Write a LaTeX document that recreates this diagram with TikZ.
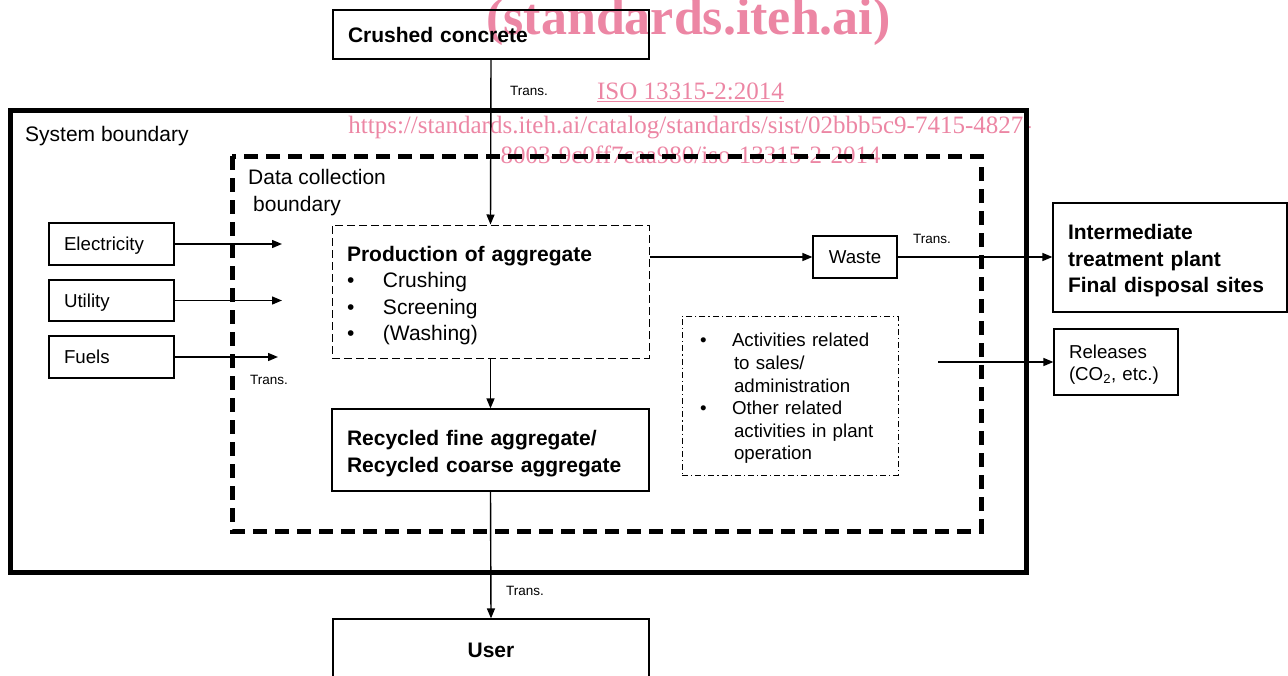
\documentclass[tikz,border=0pt]{standalone}
\usepackage{fontspec}
\setmainfont{Liberation Sans}
\newfontfamily\wmfont{Liberation Serif}
\usepackage{tikz}
\usetikzlibrary{arrows.meta}
\definecolor{wmpink}{RGB}{236,134,164}

\begin{document}
\begin{tikzpicture}[x=1pt, y=-1pt,
		box/.style={draw, line width=1.2pt, inner xsep=15pt, inner ysep=0pt, align=left,
			font=\fontsize{18.7}{22.6}\selectfont},
		onebox/.style={box, text depth=0pt},
		bigbox/.style={box, font=\fontsize{21}{26.5}\selectfont},
		flow/.style={-{Triangle[length=10pt,width=8pt]}, line width=1.4pt},
		trans/.style={anchor=west, inner sep=0pt, font=\fontsize{13.5}{16}\selectfont},
		wm/.style={anchor=base, inner sep=0pt, text=wmpink, font=\wmfont\fontsize{25}{30}\selectfont}]

			\clip (0,0) rectangle (1288,675);

			\node[wm, font=\wmfont\bfseries\fontsize{52}{60}\selectfont] (wmsite) at (688.5,34) {(standards.iteh.ai)};
			\node[wm] (wmiso) at (690.5,99) {\underline{ISO 13315-2:2014}};
			\node[wm] (wmurl) at (690,133) {https://standards.iteh.ai/catalog/standards/sist/02bbb5c9-7415-4827-};
			\node[wm] (wmid) at (690.5,163) {8003-9c0ff7caa980/iso-13315-2-2014};

			\draw[line width=5pt] (10,110) rectangle (1026,572);
			\draw[line width=5pt, dash pattern=on 14pt off 8pt] (232,156) rectangle (981,531);

			\node[anchor=west, inner sep=0pt, font=\fontsize{21}{26}\selectfont] (sysname) at (25,136) {System boundary};
			\node[anchor=west, inner sep=0pt, align=left, font=\fontsize{21}{27}\selectfont] (dataname) at (248,192.5)
				{Data collection\\\hspace*{5pt}boundary};

			\node[onebox, bigbox, text depth=0pt, text width=286pt, minimum height=49pt] (crushed) at (491,34.5) {\bfseries Crushed concrete};
			\node[bigbox, text width=287pt, minimum height=133pt, line width=1pt, dash pattern=on 8pt off 4pt] (prod) at (490.5,291.5)
				{\rule{0pt}{23.5pt}\textbf{Production of aggregate}\\
				\makebox[36pt][l]{•}Crushing\\
				\makebox[36pt][l]{•}Screening\\
				\makebox[36pt][l]{•}(Washing)};
			\node[bigbox, text width=287pt, minimum height=82pt] (recyc) at (490.5,450)
				{\rule{0pt}{22.3pt}\bfseries Recycled fine aggregate/\\Recycled coarse aggregate};
			\node[bigbox, text depth=0pt, text width=286pt, minimum height=62pt, align=center] (user) at (491,650) {\bfseries User};

			\node[onebox, text width=95pt, minimum height=42pt] (elec) at (111.5,244) {Electricity};
			\node[onebox, text width=95pt, minimum height=41pt] (util) at (111.5,300.5) {Utility};
			\node[onebox, text width=95pt, minimum height=42pt] (fuel) at (111.5,357) {Fuels};

			\node[onebox, text width=54pt, minimum height=42pt, align=center] (waste) at (855,257) {Waste};
			\node[bigbox, text width=204pt, minimum height=109pt] (inter) at (1170,257.5)
				{\rule{0pt}{22pt}\bfseries Intermediate\\treatment plant\\Final disposal sites};
			\node[box, text width=94pt, minimum height=66pt] (rel) at (1116,362) {\rule{0pt}{18.6pt}Releases\\(CO\textsubscript{2}, etc.)};
			\node[box, inner xsep=18pt, text width=180pt, minimum height=159pt, line width=1pt,
				dash pattern=on 6pt off 3pt on 1.2pt off 3pt] (other) at (790,395.5)
				{\rule{0pt}{19.6pt}\makebox[32pt][l]{•}Activities related\\
				\hspace*{34pt}to sales/\\
				\hspace*{34pt}administration\\
				\makebox[32pt][l]{•}Other related\\
				\hspace*{34pt}activities in plant\\
				\hspace*{34pt}operation};

			\coordinate (elecin) at (282,244);
			\coordinate (utilin) at (282,300.5);
			\coordinate (fuelin) at (278,357);
			\coordinate (relout) at (938,362);

			\node[trans] (trcrushed) at (510,91) {Trans.};
			\node[trans] (trfuel) at (250,380) {Trans.};
			\node[trans] (trwaste) at (913,239) {Trans.};
			\node[trans] (truser) at (506,591) {Trans.};

			\begin{scope}[flow]
				\draw (crushed.south) -- (prod.north);
				\foreach \src in {elec,util,fuel}
				{
					\draw (\src.east) -- (\src in);
				}
				\draw (prod.east |- waste.west) -- (waste.west);
				\draw (waste.east) -- (inter.west |- waste.east);
				\draw (relout) -- (rel.west);
				\draw (prod.south) -- (recyc.north);
				\draw (recyc.south) -- (user.north);
			\end{scope}
		\end{tikzpicture}
\end{document}
